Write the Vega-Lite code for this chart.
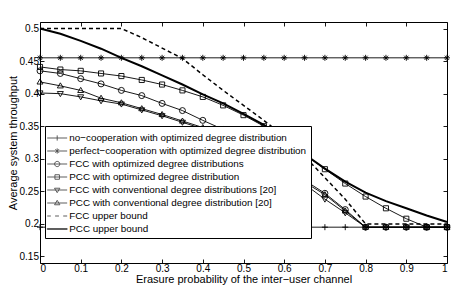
{
  "$schema": "https://vega.github.io/schema/vega-lite/v6.json",
  "width": 407,
  "height": 241,
  "autosize": {"type": "none"},
  "padding": {"left": 40, "top": 22, "right": 16, "bottom": 31},
  "background": "white",
  "config": {
    "view": {"stroke": "black", "strokeWidth": 1},
    "font": "Liberation Sans",
    "axis": {
      "domain": false, "grid": false, "tickColor": "black", "tickSize": -4, "tickWidth": 0.9,
      "labelColor": "black", "labelFontSize": 10, "labelFont": "Liberation Sans",
      "titleFontSize": 11, "titleFontWeight": "normal", "titleColor": "black", "titleFont": "Liberation Sans"
    },
    "legend": {
      "orient": "none", "legendX": 5, "legendY": 104,
      "symbolSize": 200, "symbolStrokeWidth": 0.9, "symbolStrokeColor": "black", "symbolFillColor": "transparent",
      "labelFontSize": 9.9, "labelFont": "Liberation Sans", "labelColor": "black", "labelLimit": 400,
      "strokeColor": "black", "fillColor": "white", "padding": 4, "rowPadding": -0.4, "symbolOffset": 0.2, "labelOffset": 4
    }
  },
  "datasets": {
    "curves": [
      {"series": "no−cooperation with optimized degree distribution", "p": 0, "t": 0.195},
      {"series": "no−cooperation with optimized degree distribution", "p": 0.05, "t": 0.195},
      {"series": "no−cooperation with optimized degree distribution", "p": 0.1, "t": 0.195},
      {"series": "no−cooperation with optimized degree distribution", "p": 0.15, "t": 0.195},
      {"series": "no−cooperation with optimized degree distribution", "p": 0.2, "t": 0.195},
      {"series": "no−cooperation with optimized degree distribution", "p": 0.25, "t": 0.195},
      {"series": "no−cooperation with optimized degree distribution", "p": 0.3, "t": 0.195},
      {"series": "no−cooperation with optimized degree distribution", "p": 0.35, "t": 0.195},
      {"series": "no−cooperation with optimized degree distribution", "p": 0.4, "t": 0.195},
      {"series": "no−cooperation with optimized degree distribution", "p": 0.45, "t": 0.195},
      {"series": "no−cooperation with optimized degree distribution", "p": 0.5, "t": 0.195},
      {"series": "no−cooperation with optimized degree distribution", "p": 0.55, "t": 0.195},
      {"series": "no−cooperation with optimized degree distribution", "p": 0.6, "t": 0.195},
      {"series": "no−cooperation with optimized degree distribution", "p": 0.65, "t": 0.195},
      {"series": "no−cooperation with optimized degree distribution", "p": 0.7, "t": 0.195},
      {"series": "no−cooperation with optimized degree distribution", "p": 0.75, "t": 0.195},
      {"series": "no−cooperation with optimized degree distribution", "p": 0.8, "t": 0.195},
      {"series": "no−cooperation with optimized degree distribution", "p": 0.85, "t": 0.195},
      {"series": "no−cooperation with optimized degree distribution", "p": 0.9, "t": 0.195},
      {"series": "no−cooperation with optimized degree distribution", "p": 0.95, "t": 0.195},
      {"series": "no−cooperation with optimized degree distribution", "p": 1, "t": 0.195},
      {"series": "perfect−cooperation with optimized degree distribution", "p": 0, "t": 0.455},
      {"series": "perfect−cooperation with optimized degree distribution", "p": 0.05, "t": 0.455},
      {"series": "perfect−cooperation with optimized degree distribution", "p": 0.1, "t": 0.455},
      {"series": "perfect−cooperation with optimized degree distribution", "p": 0.15, "t": 0.455},
      {"series": "perfect−cooperation with optimized degree distribution", "p": 0.2, "t": 0.455},
      {"series": "perfect−cooperation with optimized degree distribution", "p": 0.25, "t": 0.455},
      {"series": "perfect−cooperation with optimized degree distribution", "p": 0.3, "t": 0.455},
      {"series": "perfect−cooperation with optimized degree distribution", "p": 0.35, "t": 0.455},
      {"series": "perfect−cooperation with optimized degree distribution", "p": 0.4, "t": 0.455},
      {"series": "perfect−cooperation with optimized degree distribution", "p": 0.45, "t": 0.455},
      {"series": "perfect−cooperation with optimized degree distribution", "p": 0.5, "t": 0.455},
      {"series": "perfect−cooperation with optimized degree distribution", "p": 0.55, "t": 0.455},
      {"series": "perfect−cooperation with optimized degree distribution", "p": 0.6, "t": 0.455},
      {"series": "perfect−cooperation with optimized degree distribution", "p": 0.65, "t": 0.455},
      {"series": "perfect−cooperation with optimized degree distribution", "p": 0.7, "t": 0.455},
      {"series": "perfect−cooperation with optimized degree distribution", "p": 0.75, "t": 0.455},
      {"series": "perfect−cooperation with optimized degree distribution", "p": 0.8, "t": 0.455},
      {"series": "perfect−cooperation with optimized degree distribution", "p": 0.85, "t": 0.455},
      {"series": "perfect−cooperation with optimized degree distribution", "p": 0.9, "t": 0.455},
      {"series": "perfect−cooperation with optimized degree distribution", "p": 0.95, "t": 0.455},
      {"series": "perfect−cooperation with optimized degree distribution", "p": 1, "t": 0.455},
      {"series": "FCC with optimized degree distributions", "p": 0, "t": 0.435},
      {"series": "FCC with optimized degree distributions", "p": 0.05, "t": 0.431},
      {"series": "FCC with optimized degree distributions", "p": 0.1, "t": 0.423},
      {"series": "FCC with optimized degree distributions", "p": 0.15, "t": 0.415},
      {"series": "FCC with optimized degree distributions", "p": 0.2, "t": 0.405},
      {"series": "FCC with optimized degree distributions", "p": 0.25, "t": 0.397},
      {"series": "FCC with optimized degree distributions", "p": 0.3, "t": 0.385},
      {"series": "FCC with optimized degree distributions", "p": 0.35, "t": 0.374},
      {"series": "FCC with optimized degree distributions", "p": 0.4, "t": 0.359},
      {"series": "FCC with optimized degree distributions", "p": 0.45, "t": 0.345},
      {"series": "FCC with optimized degree distributions", "p": 0.5, "t": 0.329},
      {"series": "FCC with optimized degree distributions", "p": 0.55, "t": 0.31},
      {"series": "FCC with optimized degree distributions", "p": 0.6, "t": 0.289},
      {"series": "FCC with optimized degree distributions", "p": 0.65, "t": 0.267},
      {"series": "FCC with optimized degree distributions", "p": 0.7, "t": 0.247},
      {"series": "FCC with optimized degree distributions", "p": 0.75, "t": 0.222},
      {"series": "FCC with optimized degree distributions", "p": 0.8, "t": 0.195},
      {"series": "FCC with optimized degree distributions", "p": 0.85, "t": 0.195},
      {"series": "FCC with optimized degree distributions", "p": 0.9, "t": 0.195},
      {"series": "FCC with optimized degree distributions", "p": 0.95, "t": 0.195},
      {"series": "FCC with optimized degree distributions", "p": 1, "t": 0.195},
      {"series": "PCC with optimized degree distribution", "p": 0, "t": 0.441},
      {"series": "PCC with optimized degree distribution", "p": 0.05, "t": 0.437},
      {"series": "PCC with optimized degree distribution", "p": 0.1, "t": 0.435},
      {"series": "PCC with optimized degree distribution", "p": 0.15, "t": 0.431},
      {"series": "PCC with optimized degree distribution", "p": 0.2, "t": 0.427},
      {"series": "PCC with optimized degree distribution", "p": 0.25, "t": 0.421},
      {"series": "PCC with optimized degree distribution", "p": 0.3, "t": 0.414},
      {"series": "PCC with optimized degree distribution", "p": 0.35, "t": 0.405},
      {"series": "PCC with optimized degree distribution", "p": 0.4, "t": 0.395},
      {"series": "PCC with optimized degree distribution", "p": 0.45, "t": 0.382},
      {"series": "PCC with optimized degree distribution", "p": 0.5, "t": 0.367},
      {"series": "PCC with optimized degree distribution", "p": 0.55, "t": 0.35},
      {"series": "PCC with optimized degree distribution", "p": 0.6, "t": 0.33},
      {"series": "PCC with optimized degree distribution", "p": 0.65, "t": 0.307},
      {"series": "PCC with optimized degree distribution", "p": 0.7, "t": 0.284},
      {"series": "PCC with optimized degree distribution", "p": 0.75, "t": 0.262},
      {"series": "PCC with optimized degree distribution", "p": 0.8, "t": 0.242},
      {"series": "PCC with optimized degree distribution", "p": 0.85, "t": 0.224},
      {"series": "PCC with optimized degree distribution", "p": 0.9, "t": 0.208},
      {"series": "PCC with optimized degree distribution", "p": 0.95, "t": 0.195},
      {"series": "PCC with optimized degree distribution", "p": 1, "t": 0.195},
      {"series": "FCC with conventional degree distributions [20]", "p": 0, "t": 0.401},
      {"series": "FCC with conventional degree distributions [20]", "p": 0.05, "t": 0.4},
      {"series": "FCC with conventional degree distributions [20]", "p": 0.1, "t": 0.395},
      {"series": "FCC with conventional degree distributions [20]", "p": 0.15, "t": 0.389},
      {"series": "FCC with conventional degree distributions [20]", "p": 0.2, "t": 0.384},
      {"series": "FCC with conventional degree distributions [20]", "p": 0.25, "t": 0.375},
      {"series": "FCC with conventional degree distributions [20]", "p": 0.3, "t": 0.366},
      {"series": "FCC with conventional degree distributions [20]", "p": 0.35, "t": 0.356},
      {"series": "FCC with conventional degree distributions [20]", "p": 0.4, "t": 0.346},
      {"series": "FCC with conventional degree distributions [20]", "p": 0.45, "t": 0.334},
      {"series": "FCC with conventional degree distributions [20]", "p": 0.5, "t": 0.32},
      {"series": "FCC with conventional degree distributions [20]", "p": 0.55, "t": 0.303},
      {"series": "FCC with conventional degree distributions [20]", "p": 0.6, "t": 0.283},
      {"series": "FCC with conventional degree distributions [20]", "p": 0.65, "t": 0.261},
      {"series": "FCC with conventional degree distributions [20]", "p": 0.7, "t": 0.238},
      {"series": "FCC with conventional degree distributions [20]", "p": 0.75, "t": 0.217},
      {"series": "FCC with conventional degree distributions [20]", "p": 0.8, "t": 0.195},
      {"series": "FCC with conventional degree distributions [20]", "p": 0.85, "t": 0.195},
      {"series": "FCC with conventional degree distributions [20]", "p": 0.9, "t": 0.195},
      {"series": "FCC with conventional degree distributions [20]", "p": 0.95, "t": 0.195},
      {"series": "FCC with conventional degree distributions [20]", "p": 1, "t": 0.195},
      {"series": "PCC with conventional degree distribution [20]", "p": 0, "t": 0.418},
      {"series": "PCC with conventional degree distribution [20]", "p": 0.05, "t": 0.412},
      {"series": "PCC with conventional degree distribution [20]", "p": 0.1, "t": 0.405},
      {"series": "PCC with conventional degree distribution [20]", "p": 0.15, "t": 0.393},
      {"series": "PCC with conventional degree distribution [20]", "p": 0.2, "t": 0.386},
      {"series": "PCC with conventional degree distribution [20]", "p": 0.25, "t": 0.377},
      {"series": "PCC with conventional degree distribution [20]", "p": 0.3, "t": 0.368},
      {"series": "PCC with conventional degree distribution [20]", "p": 0.35, "t": 0.358},
      {"series": "PCC with conventional degree distribution [20]", "p": 0.4, "t": 0.348},
      {"series": "PCC with conventional degree distribution [20]", "p": 0.45, "t": 0.336},
      {"series": "PCC with conventional degree distribution [20]", "p": 0.5, "t": 0.322},
      {"series": "PCC with conventional degree distribution [20]", "p": 0.55, "t": 0.305},
      {"series": "PCC with conventional degree distribution [20]", "p": 0.6, "t": 0.286},
      {"series": "PCC with conventional degree distribution [20]", "p": 0.65, "t": 0.264},
      {"series": "PCC with conventional degree distribution [20]", "p": 0.7, "t": 0.245},
      {"series": "PCC with conventional degree distribution [20]", "p": 0.75, "t": 0.22},
      {"series": "PCC with conventional degree distribution [20]", "p": 0.8, "t": 0.195},
      {"series": "PCC with conventional degree distribution [20]", "p": 0.85, "t": 0.195},
      {"series": "PCC with conventional degree distribution [20]", "p": 0.9, "t": 0.195},
      {"series": "PCC with conventional degree distribution [20]", "p": 0.95, "t": 0.195},
      {"series": "PCC with conventional degree distribution [20]", "p": 1, "t": 0.195},
      {"series": "FCC upper bound", "p": 0, "t": 0.5},
      {"series": "FCC upper bound", "p": 0.05, "t": 0.5},
      {"series": "FCC upper bound", "p": 0.1, "t": 0.5},
      {"series": "FCC upper bound", "p": 0.15, "t": 0.5},
      {"series": "FCC upper bound", "p": 0.2, "t": 0.5},
      {"series": "FCC upper bound", "p": 0.25, "t": 0.486},
      {"series": "FCC upper bound", "p": 0.3, "t": 0.47},
      {"series": "FCC upper bound", "p": 0.35, "t": 0.454},
      {"series": "FCC upper bound", "p": 0.4, "t": 0.429},
      {"series": "FCC upper bound", "p": 0.45, "t": 0.405},
      {"series": "FCC upper bound", "p": 0.5, "t": 0.382},
      {"series": "FCC upper bound", "p": 0.55, "t": 0.359},
      {"series": "FCC upper bound", "p": 0.6, "t": 0.334},
      {"series": "FCC upper bound", "p": 0.65, "t": 0.304},
      {"series": "FCC upper bound", "p": 0.7, "t": 0.271},
      {"series": "FCC upper bound", "p": 0.75, "t": 0.238},
      {"series": "FCC upper bound", "p": 0.8, "t": 0.2},
      {"series": "FCC upper bound", "p": 0.85, "t": 0.2},
      {"series": "FCC upper bound", "p": 0.9, "t": 0.2},
      {"series": "FCC upper bound", "p": 0.95, "t": 0.2},
      {"series": "FCC upper bound", "p": 1, "t": 0.2},
      {"series": "PCC upper bound", "p": 0, "t": 0.5},
      {"series": "PCC upper bound", "p": 0.05, "t": 0.492},
      {"series": "PCC upper bound", "p": 0.1, "t": 0.481},
      {"series": "PCC upper bound", "p": 0.15, "t": 0.469},
      {"series": "PCC upper bound", "p": 0.2, "t": 0.455},
      {"series": "PCC upper bound", "p": 0.25, "t": 0.442},
      {"series": "PCC upper bound", "p": 0.3, "t": 0.428},
      {"series": "PCC upper bound", "p": 0.35, "t": 0.414},
      {"series": "PCC upper bound", "p": 0.4, "t": 0.399},
      {"series": "PCC upper bound", "p": 0.45, "t": 0.385},
      {"series": "PCC upper bound", "p": 0.5, "t": 0.369},
      {"series": "PCC upper bound", "p": 0.55, "t": 0.352},
      {"series": "PCC upper bound", "p": 0.6, "t": 0.33},
      {"series": "PCC upper bound", "p": 0.65, "t": 0.307},
      {"series": "PCC upper bound", "p": 0.7, "t": 0.285},
      {"series": "PCC upper bound", "p": 0.75, "t": 0.265},
      {"series": "PCC upper bound", "p": 0.8, "t": 0.248},
      {"series": "PCC upper bound", "p": 0.85, "t": 0.235},
      {"series": "PCC upper bound", "p": 0.9, "t": 0.224},
      {"series": "PCC upper bound", "p": 0.95, "t": 0.213},
      {"series": "PCC upper bound", "p": 1, "t": 0.203}
    ]
  },
  "data": {"name": "curves"},
  "resolve": {"axis": {"x": "independent", "y": "independent"}, "scale": {"shape": "independent"}},
  "layer": [
    {
      "transform": [{"filter": {"field": "series", "oneOf": ["no−cooperation with optimized degree distribution", "perfect−cooperation with optimized degree distribution", "FCC with optimized degree distributions", "PCC with optimized degree distribution", "FCC with conventional degree distributions [20]", "PCC with conventional degree distribution [20]"]}}],
      "mark": {"type": "line", "color": "black", "strokeWidth": 0.9},
      "encoding": {
        "x": {"field": "p", "type": "quantitative",
          "scale": {"domain": [0, 1], "nice": false, "zero": false},
          "axis": {"orient": "bottom", "values": [0, 0.1, 0.2, 0.3, 0.4, 0.5, 0.6, 0.7, 0.8, 0.9, 1], "format": "~g",
            "title": "Erasure probability of the inter−user channel", "labelPadding": 4.7, "titlePadding": 0}},
        "y": {"field": "t", "type": "quantitative",
          "scale": {"domain": [0.14, 0.51], "nice": false, "zero": false},
          "axis": {"orient": "left", "values": [0.15, 0.2, 0.25, 0.3, 0.35, 0.4, 0.45, 0.5], "format": "~g",
            "title": "Average system throughput", "labelPadding": 5.5, "titlePadding": 1}},
        "detail": {"field": "series", "type": "nominal"}
      }
    },
    {
      "transform": [{"filter": {"field": "series", "equal": "FCC upper bound"}}],
      "mark": {"type": "line", "color": "black", "strokeWidth": 1.5, "strokeDash": [4, 3]},
      "encoding": {
        "x": {"field": "p", "type": "quantitative", "axis": null},
        "y": {"field": "t", "type": "quantitative", "axis": null}
      }
    },
    {
      "transform": [{"filter": {"field": "series", "equal": "PCC upper bound"}}],
      "mark": {"type": "line", "color": "black", "strokeWidth": 2},
      "encoding": {
        "x": {"field": "p", "type": "quantitative", "axis": null},
        "y": {"field": "t", "type": "quantitative", "axis": null}
      }
    },
    {
      "transform": [{"filter": {"field": "series", "oneOf": ["no−cooperation with optimized degree distribution", "perfect−cooperation with optimized degree distribution", "FCC with optimized degree distributions", "PCC with optimized degree distribution", "FCC with conventional degree distributions [20]", "PCC with conventional degree distribution [20]"]}}],
      "mark": {"type": "point", "filled": false, "color": "black", "strokeWidth": 0.9, "size": 36, "opacity": 1},
      "encoding": {
        "x": {"field": "p", "type": "quantitative",
          "axis": {"orient": "top", "values": [0, 0.1, 0.2, 0.3, 0.4, 0.5, 0.6, 0.7, 0.8, 0.9, 1], "labels": false, "title": null}},
        "y": {"field": "t", "type": "quantitative",
          "axis": {"orient": "right", "values": [0.15, 0.2, 0.25, 0.3, 0.35, 0.4, 0.45, 0.5], "labels": false, "title": null}},
        "shape": {"field": "series", "type": "nominal", "legend": null,
          "scale": {"domain": ["no−cooperation with optimized degree distribution", "perfect−cooperation with optimized degree distribution", "FCC with optimized degree distributions", "PCC with optimized degree distribution", "FCC with conventional degree distributions [20]", "PCC with conventional degree distribution [20]"],
            "range": ["M-1,0H1M0,-1V1", "M-1,0H1M0,-1V1M-0.7,-0.7L0.7,0.7M-0.7,0.7L0.7,-0.7", "circle", "M-0.85,-0.85H0.85V0.85H-0.85Z", "M-1,-0.7L1,-0.7L0,1Z", "M-1,0.7L1,0.7L0,-1Z"]}}
      }
    },
    {
      "transform": [{"filter": {"field": "p", "lt": -1}}],
      "mark": {"type": "point", "filled": false, "color": "black", "strokeWidth": 0.9},
      "encoding": {
        "shape": {"field": "series", "type": "nominal",
          "scale": {"domain": ["no−cooperation with optimized degree distribution", "perfect−cooperation with optimized degree distribution", "FCC with optimized degree distributions", "PCC with optimized degree distribution", "FCC with conventional degree distributions [20]", "PCC with conventional degree distribution [20]", "FCC upper bound", "PCC upper bound"],
            "range": [
              "M-1.41,0H1.41M0,-0.37V0.37",
              "M-1.41,0H1.41M0,-0.37V0.37M-0.26,-0.26L0.26,0.26M-0.26,0.26L0.26,-0.26",
              "M-1.41,0H1.41M0.37,0A0.37,0.37 0 1,1 -0.37,0A0.37,0.37 0 1,1 0.37,0",
              "M-1.41,0H1.41M-0.32,-0.32H0.32V0.32H-0.32Z",
              "M-1.41,0H1.41M-0.38,-0.25L0.38,-0.25L0,0.38Z",
              "M-1.41,0H1.41M-0.38,0.25L0.38,0.25L0,-0.38Z",
              "M-1.41,0H-0.9M-0.3,0H0.25M0.85,0H1.41",
              "M-1.41,-0.07H1.41V0.07H-1.41Z"
            ]},
          "legend": {"title": null, "rowPadding": -0.4,
            "encode": {"symbols": {"update": {"fill": {"value": "transparent"}, "stroke": {"value": "black"}, "strokeWidth": {"value": 0.9}, "opacity": {"value": 1}}}}}
        }
      }
    }
  ]
}
